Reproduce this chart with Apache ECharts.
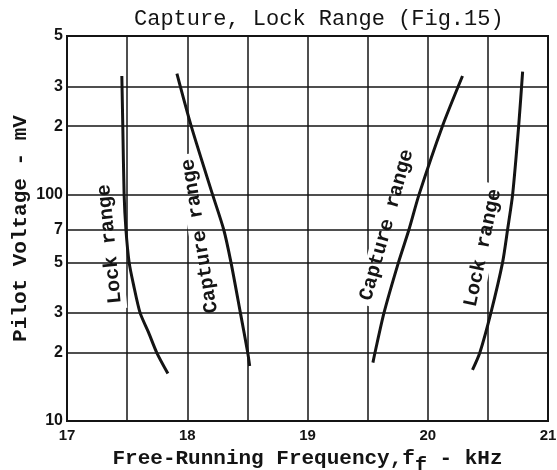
<!DOCTYPE html>
<html>
<head>
<meta charset="utf-8">
<script src="https://cdn.jsdelivr.net/npm/echarts@6/dist/echarts.min.js"></script>
<style>
  html, body { margin: 0; padding: 0; background: #fff; }
  #chart { width: 557px; height: 470px; }
</style>
</head>
<body>
<div id="chart"></div>
<script>
// x ticks (kHz) and log y ticks (mV)
const xTickValues = [17, 18, 19, 20, 21];
const yTickValues = [10, 20, 30, 50, 70, 100, 200, 300, 500];
const yTickLabels = ['10', '2', '3', '5', '7', '100', '2', '3', '5'];

// curves: frequency (kHz) / pilot voltage (mV)
const lockLeftX = [17.456, 17.464, 17.475, 17.49, 17.517, 17.553, 17.608, 17.678, 17.747, 17.839];
const lockLeftY = [333, 200, 100, 70, 50, 40, 30, 24.6, 20, 16.2];

const captureLeftX = [17.914, 18.033, 18.21, 18.303, 18.364, 18.442, 18.503, 18.519];
const captureLeftY = [341, 200, 100, 70, 50, 30, 20, 17.5];

const captureRightX = [20.289, 20.122, 19.928, 19.844, 19.756, 19.636, 19.561, 19.544];
const captureRightY = [333, 200, 100, 70, 50, 30, 20, 18.1];

const lockRightX = [20.789, 20.756, 20.706, 20.664, 20.622, 20.525, 20.433, 20.372];
const lockRightY = [348, 200, 100, 70, 50, 30, 20, 16.8];

const curveLabels = ['Lock range', 'Capture range', 'Capture range', 'Lock range'];

const ink = '#141414';
const mono = '"Liberation Mono", "DejaVu Sans Mono", monospace';
const narrow = '"Liberation Sans Narrow", "Liberation Sans", sans-serif';

const zip = (xs, ys) => xs.map((x, i) => [x, ys[i]]);

const curve = (xs, ys) => ({
  type: 'line',
  data: zip(xs, ys),
  smooth: 0.25,
  symbol: 'none',
  z: 10,
  lineStyle: { color: ink, width: 3 }
});

// label positions (pixels) and angles of the rotated curve names
const labelPos = [[110, 244, 95.6], [200, 236, 99], [387, 225, 74.4], [483, 248, 78]];

const chart = echarts.init(document.getElementById('chart'));

const option = {
  backgroundColor: '#fff',
  animation: false,
  title: {
    text: 'Capture, Lock Range (Fig.15)',
    left: 129,
    top: 3,
    textStyle: { fontFamily: mono, fontSize: 22, fontWeight: 'normal', color: ink }
  },
  grid: {
    left: 67, right: 9, top: 36, bottom: 49,
    outerBoundsMode: 'none',
    containLabel: false,
    show: true, borderColor: ink, borderWidth: 2
  },
  xAxis: {
    type: 'value',
    min: 17, max: 21, interval: 0.5,
    name: 'Free-Running Frequency,f{s|f} - kHz',
    nameLocation: 'middle',
    nameGap: 21,
    nameTextStyle: {
      fontFamily: mono, fontSize: 21, fontWeight: 'bold', color: ink,
      rich: {
        s: { fontFamily: mono, fontSize: 20, fontWeight: 'bold', color: ink, padding: [14, 0, 0, 0] }
      }
    },
    axisLine: { show: false },
    axisTick: { show: false },
    axisLabel: {
      margin: 7,
      color: ink, fontFamily: narrow, fontWeight: 'bold', fontSize: 15,
      formatter: v => (xTickValues.indexOf(v) >= 0 ? String(v) : '')
    },
    splitLine: { show: true, lineStyle: { color: ink, width: 1.5 } }
  },
  yAxis: {
    type: 'log',
    logBase: 10,
    min: 10, max: 500,
    name: 'Pilot Voltage - mV',
    nameLocation: 'middle',
    nameGap: 36,
    nameTextStyle: { fontFamily: mono, fontSize: 21, fontWeight: 'bold', color: ink },
    axisLine: { show: false },
    axisTick: { show: false },
    axisLabel: { show: false },
    splitLine: { show: false }
  },
  graphic: labelPos.map((p, i) => ({
    type: 'text',
    x: p[0], y: p[1],
    rotation: p[2] * Math.PI / 180,
    z: 5,
    style: {
      text: curveLabels[i],
      fontFamily: mono, fontSize: 20, fontWeight: 'bold', fill: ink,
      align: 'center', verticalAlign: 'middle',
      backgroundColor: '#fff', padding: [1, 5]
    }
  })),
  series: [
    {
      type: 'line',
      data: [],
      z: 1,
      markLine: {
        silent: true,
        symbol: 'none',
        animation: false,
        lineStyle: { color: ink, width: 1.5, type: 'solid' },
        label: {
          position: 'start', distance: 4, formatter: '{b}',
          color: ink, fontFamily: narrow, fontWeight: 'bold', fontSize: 16
        },
        data: yTickValues.map((v, i) => ({ yAxis: v, name: yTickLabels[i] }))
      }
    },
    curve(lockLeftX, lockLeftY),
    curve(captureLeftX, captureLeftY),
    curve(captureRightX, captureRightY),
    curve(lockRightX, lockRightY)
  ]
};

chart.setOption(option);
window.addEventListener('resize', () => chart.resize());
</script>
</body>
</html>
